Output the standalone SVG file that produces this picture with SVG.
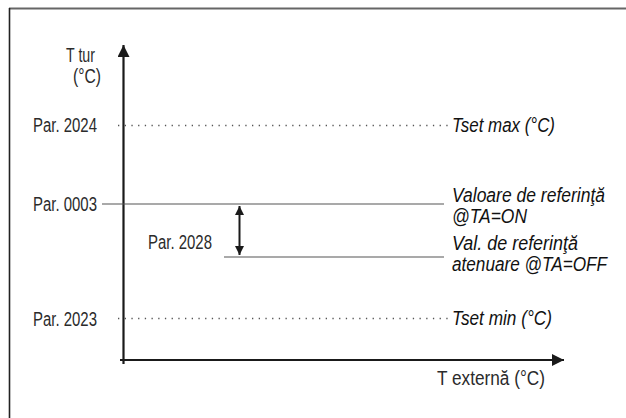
<svg xmlns="http://www.w3.org/2000/svg" width="626" height="418" viewBox="0 0 626 418">
<style>
.t{font-family:"Liberation Sans",Arial,sans-serif;font-size:20px;fill:#2b2b2b;}
.i{font-style:italic;fill:#111;}
.dot{stroke:#555;stroke-width:1.3;stroke-dasharray:1.3 5.4;fill:none;}
.sol{stroke:#555;stroke-width:1.2;fill:none;}
.ax{stroke:#1a1a1a;stroke-width:2.2;fill:none;}
</style>
<defs>
<marker id="ah" markerUnits="userSpaceOnUse" markerWidth="12" markerHeight="12" refX="10" refY="5" orient="auto" viewBox="0 0 10 10">
<path d="M0,0 L10,5 L0,10 Z" fill="#1a1a1a"/>
</marker>
<marker id="sh" markerUnits="userSpaceOnUse" markerWidth="9" markerHeight="9" refX="9" refY="4.5" orient="auto-start-reverse" viewBox="0 0 9 9">
<path d="M0,0 L9,4.5 L0,9 Z" fill="#1a1a1a"/>
</marker>
</defs>
<rect width="626" height="418" fill="#fff"/>
<g id="frame">
<line x1="9" y1="8.5" x2="626" y2="8.5" stroke="#666" stroke-width="1.8"/>
<line x1="9.5" y1="8" x2="9.5" y2="418" stroke="#222" stroke-width="1.6"/>
</g>
<g id="connectors">
<line id="y-axis" class="ax" x1="123.5" y1="364" x2="123.5" y2="45" marker-end="url(#ah)"/>
<line id="x-axis" class="ax" x1="120" y1="360" x2="564" y2="360" marker-end="url(#ah)"/>
<line id="l2024" class="dot" x1="118" y1="125.5" x2="448" y2="125.5"/>
<line id="l0003" class="sol" x1="102" y1="204" x2="444" y2="204"/>
<line id="lred" class="sol" x1="224" y1="257" x2="444" y2="257"/>
<line id="l2023" class="dot" x1="118" y1="318.5" x2="448" y2="318.5"/>
<line id="d2028" stroke="#1a1a1a" stroke-width="2" x1="239.5" y1="206" x2="239.5" y2="255" marker-start="url(#sh)" marker-end="url(#sh)"/>
</g>
<g id="label-ytur">
<text class="t" x="66" y="62" textLength="29" lengthAdjust="spacingAndGlyphs">T tur</text>
<text class="t" x="73" y="83" textLength="28" lengthAdjust="spacingAndGlyphs">(°C)</text>
</g>
<g id="label-2024"><text class="t" x="33" y="132" textLength="64" lengthAdjust="spacingAndGlyphs">Par. 2024</text></g>
<g id="label-0003"><text class="t" x="33" y="211" textLength="64" lengthAdjust="spacingAndGlyphs">Par. 0003</text></g>
<g id="label-2028"><text class="t" x="148" y="249" textLength="64" lengthAdjust="spacingAndGlyphs">Par. 2028</text></g>
<g id="label-2023"><text class="t" x="33" y="326" textLength="64" lengthAdjust="spacingAndGlyphs">Par. 2023</text></g>
<g id="label-tsetmax"><text class="t i" x="452" y="132" textLength="103" lengthAdjust="spacingAndGlyphs">Tset max (°C)</text></g>
<g id="label-on">
<text class="t i" x="452" y="202" textLength="153" lengthAdjust="spacingAndGlyphs">Valoare de referinţă</text>
<text class="t i" x="452" y="223" textLength="75" lengthAdjust="spacingAndGlyphs">@TA=ON</text>
</g>
<g id="label-off">
<text class="t i" x="452" y="250" textLength="126" lengthAdjust="spacingAndGlyphs">Val. de referinţă</text>
<text class="t i" x="452" y="271" textLength="155" lengthAdjust="spacingAndGlyphs">atenuare @TA=OFF</text>
</g>
<g id="label-tsetmin"><text class="t i" x="452" y="325" textLength="100" lengthAdjust="spacingAndGlyphs">Tset min (°C)</text></g>
<g id="label-xext"><text class="t" x="437" y="385" textLength="108" lengthAdjust="spacingAndGlyphs">T externă (°C)</text></g>
</svg>
